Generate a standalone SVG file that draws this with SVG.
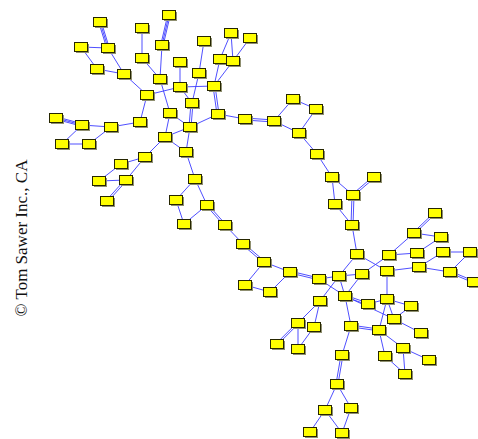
<svg xmlns="http://www.w3.org/2000/svg" width="478" height="439" viewBox="0 0 478 439">
<style>
.e line{stroke:#3c3cff;stroke-width:1;fill:none;stroke-opacity:0.9}
.sh{fill:#8f8f70}
.nd{fill:#ffff00;stroke:#262600;stroke-width:1}
.cp{font-family:"Liberation Serif","Times New Roman",serif;font-size:17px;fill:#111}
</style>
<rect width="478" height="439" fill="#ffffff"/>
<g id="connectors" class="e">
<line x1="98.8" y1="22.4" x2="106.8" y2="48.4"/><line x1="100" y1="22" x2="108" y2="48"/><line x1="101.2" y1="21.6" x2="109.2" y2="47.6"/>
<line x1="170.2" y1="15.3" x2="163.2" y2="45.3"/><line x1="169" y1="15" x2="162" y2="45"/><line x1="167.8" y1="14.7" x2="160.8" y2="44.7"/>
<line x1="55.7" y1="119.2" x2="81.7" y2="126.2"/><line x1="56" y1="118" x2="82" y2="125"/><line x1="56.3" y1="116.8" x2="82.3" y2="123.8"/>
<line x1="193" y1="103" x2="191" y2="127"/><line x1="191" y1="103" x2="189" y2="127"/>
<line x1="215" y1="85.9" x2="219" y2="113.9"/><line x1="213" y1="86.1" x2="217" y2="114.1"/>
<line x1="245" y1="120" x2="274" y2="122"/><line x1="245" y1="118" x2="274" y2="120"/>
<line x1="126.7" y1="180.6" x2="107.7" y2="201.6"/><line x1="125.3" y1="179.4" x2="106.3" y2="200.4"/>
<line x1="206.3" y1="205.6" x2="224.3" y2="225.6"/><line x1="207.7" y1="204.4" x2="225.7" y2="224.4"/>
<line x1="242.4" y1="244.7" x2="263.4" y2="262.7"/><line x1="243.6" y1="243.3" x2="264.6" y2="261.3"/>
<line x1="289.8" y1="272.9" x2="318.8" y2="279.9"/><line x1="290.2" y1="271.1" x2="319.2" y2="278.1"/>
<line x1="374.6" y1="177.7" x2="353.6" y2="195.7"/><line x1="373.4" y1="176.3" x2="352.4" y2="194.3"/>
<line x1="354" y1="195" x2="353" y2="225"/><line x1="352" y1="195" x2="351" y2="225"/>
<line x1="435.6" y1="213.6" x2="414.6" y2="233.6"/><line x1="434.4" y1="212.4" x2="413.4" y2="232.4"/>
<line x1="449.7" y1="272.8" x2="473.7" y2="282.8"/><line x1="450.3" y1="271.2" x2="474.3" y2="281.2"/>
<line x1="344.7" y1="296.8" x2="367.7" y2="304.8"/><line x1="345.3" y1="295.2" x2="368.3" y2="303.2"/>
<line x1="298.6" y1="323.6" x2="277.6" y2="344.6"/><line x1="297.4" y1="322.4" x2="276.4" y2="343.4"/>
<line x1="350.9" y1="326.9" x2="378.9" y2="330.9"/><line x1="351.1" y1="325.1" x2="379.1" y2="329.1"/>
<line x1="343" y1="355" x2="338" y2="384"/><line x1="341" y1="355" x2="336" y2="384"/>
<line x1="142" y1="28" x2="142" y2="58"/>
<line x1="81" y1="47" x2="108" y2="48"/>
<line x1="81" y1="47" x2="97" y2="69"/>
<line x1="108" y1="48" x2="124" y2="74"/>
<line x1="97" y1="69" x2="124" y2="74"/>
<line x1="162" y1="45" x2="160" y2="79"/>
<line x1="142" y1="58" x2="160" y2="79"/>
<line x1="180" y1="62" x2="180" y2="87"/>
<line x1="124" y1="74" x2="147" y2="95"/>
<line x1="147" y1="95" x2="180" y2="87"/>
<line x1="160" y1="79" x2="170" y2="113"/>
<line x1="180" y1="87" x2="192" y2="103"/>
<line x1="147" y1="95" x2="140" y2="122"/>
<line x1="82" y1="125" x2="111" y2="127"/>
<line x1="111" y1="127" x2="140" y2="122"/>
<line x1="82" y1="125" x2="62" y2="144"/>
<line x1="111" y1="127" x2="89" y2="144"/>
<line x1="62" y1="144" x2="89" y2="144"/>
<line x1="170" y1="113" x2="165" y2="137"/>
<line x1="170" y1="113" x2="190" y2="127"/>
<line x1="165" y1="137" x2="145" y2="157"/>
<line x1="165" y1="137" x2="186" y2="152"/>
<line x1="165" y1="137" x2="190" y2="127"/>
<line x1="190" y1="127" x2="186" y2="152"/>
<line x1="199" y1="73" x2="192" y2="103"/>
<line x1="180" y1="87" x2="214" y2="86"/>
<line x1="214" y1="86" x2="220" y2="59"/>
<line x1="214" y1="86" x2="233" y2="61"/>
<line x1="204" y1="41" x2="199" y2="73"/>
<line x1="231" y1="33" x2="220" y2="59"/>
<line x1="231" y1="33" x2="233" y2="61"/>
<line x1="250" y1="38" x2="233" y2="61"/>
<line x1="190" y1="127" x2="218" y2="114"/>
<line x1="218" y1="114" x2="245" y2="119"/>
<line x1="274" y1="121" x2="293" y2="99"/>
<line x1="293" y1="99" x2="316" y2="109"/>
<line x1="316" y1="109" x2="299" y2="133"/>
<line x1="274" y1="121" x2="299" y2="133"/>
<line x1="299" y1="133" x2="317" y2="154"/>
<line x1="317" y1="154" x2="332" y2="177"/>
<line x1="145" y1="157" x2="121" y2="164"/>
<line x1="145" y1="157" x2="126" y2="180"/>
<line x1="121" y1="164" x2="99" y2="181"/>
<line x1="99" y1="181" x2="126" y2="180"/>
<line x1="186" y1="152" x2="195" y2="179"/>
<line x1="195" y1="179" x2="176" y2="200"/>
<line x1="195" y1="179" x2="207" y2="205"/>
<line x1="176" y1="200" x2="184" y2="224"/>
<line x1="207" y1="205" x2="184" y2="224"/>
<line x1="225" y1="225" x2="243" y2="244"/>
<line x1="264" y1="262" x2="290" y2="272"/>
<line x1="264" y1="262" x2="245" y2="285"/>
<line x1="290" y1="272" x2="270" y2="292"/>
<line x1="245" y1="285" x2="270" y2="292"/>
<line x1="332" y1="177" x2="353" y2="195"/>
<line x1="332" y1="177" x2="335" y2="204"/>
<line x1="335" y1="204" x2="352" y2="225"/>
<line x1="352" y1="225" x2="357" y2="254"/>
<line x1="414" y1="233" x2="441" y2="237"/>
<line x1="414" y1="233" x2="389" y2="255"/>
<line x1="441" y1="237" x2="417" y2="253"/>
<line x1="389" y1="255" x2="417" y2="253"/>
<line x1="443" y1="252" x2="470" y2="252"/>
<line x1="443" y1="252" x2="419" y2="267"/>
<line x1="470" y1="252" x2="450" y2="272"/>
<line x1="419" y1="267" x2="387" y2="271"/>
<line x1="419" y1="267" x2="450" y2="272"/>
<line x1="357" y1="254" x2="387" y2="271"/>
<line x1="389" y1="255" x2="362" y2="274"/>
<line x1="357" y1="254" x2="339" y2="276"/>
<line x1="387" y1="271" x2="387" y2="299"/>
<line x1="319" y1="279" x2="339" y2="276"/>
<line x1="339" y1="276" x2="362" y2="274"/>
<line x1="339" y1="276" x2="345" y2="296"/>
<line x1="362" y1="274" x2="345" y2="296"/>
<line x1="319" y1="279" x2="345" y2="296"/>
<line x1="339" y1="276" x2="320" y2="301"/>
<line x1="368" y1="304" x2="387" y2="299"/>
<line x1="387" y1="299" x2="394" y2="319"/>
<line x1="387" y1="299" x2="411" y2="306"/>
<line x1="411" y1="306" x2="394" y2="319"/>
<line x1="345" y1="296" x2="394" y2="319"/>
<line x1="387" y1="299" x2="379" y2="330"/>
<line x1="394" y1="319" x2="421" y2="333"/>
<line x1="345" y1="296" x2="351" y2="326"/>
<line x1="379" y1="330" x2="403" y2="348"/>
<line x1="379" y1="330" x2="385" y2="356"/>
<line x1="403" y1="348" x2="429" y2="360"/>
<line x1="403" y1="348" x2="405" y2="374"/>
<line x1="385" y1="356" x2="405" y2="374"/>
<line x1="351" y1="326" x2="342" y2="355"/>
<line x1="337" y1="384" x2="325" y2="410"/>
<line x1="337" y1="384" x2="351" y2="408"/>
<line x1="325" y1="410" x2="310" y2="432"/>
<line x1="325" y1="410" x2="342" y2="433"/>
<line x1="351" y1="408" x2="342" y2="433"/>
<line x1="320" y1="301" x2="298" y2="323"/>
<line x1="320" y1="301" x2="314" y2="327"/>
<line x1="298" y1="323" x2="298" y2="349"/>
<line x1="314" y1="327" x2="298" y2="349"/>
</g>
<g id="nodes">
<g id="n1"><rect class="sh" x="95" y="19" width="13" height="9"/><rect class="nd" x="93.5" y="17.5" width="13" height="9"/></g>
<g id="n2"><rect class="sh" x="164" y="12" width="13" height="9"/><rect class="nd" x="162.5" y="10.5" width="13" height="9"/></g>
<g id="n3"><rect class="sh" x="137" y="25" width="13" height="9"/><rect class="nd" x="135.5" y="23.5" width="13" height="9"/></g>
<g id="n4"><rect class="sh" x="76" y="44" width="13" height="9"/><rect class="nd" x="74.5" y="42.5" width="13" height="9"/></g>
<g id="n5"><rect class="sh" x="103" y="45" width="13" height="9"/><rect class="nd" x="101.5" y="43.5" width="13" height="9"/></g>
<g id="n6"><rect class="sh" x="157" y="42" width="13" height="9"/><rect class="nd" x="155.5" y="40.5" width="13" height="9"/></g>
<g id="n7"><rect class="sh" x="175" y="59" width="13" height="9"/><rect class="nd" x="173.5" y="57.5" width="13" height="9"/></g>
<g id="n8"><rect class="sh" x="137" y="55" width="13" height="9"/><rect class="nd" x="135.5" y="53.5" width="13" height="9"/></g>
<g id="n9"><rect class="sh" x="92" y="66" width="13" height="9"/><rect class="nd" x="90.5" y="64.5" width="13" height="9"/></g>
<g id="n10"><rect class="sh" x="119" y="71" width="13" height="9"/><rect class="nd" x="117.5" y="69.5" width="13" height="9"/></g>
<g id="n11"><rect class="sh" x="155" y="76" width="13" height="9"/><rect class="nd" x="153.5" y="74.5" width="13" height="9"/></g>
<g id="n12"><rect class="sh" x="175" y="84" width="13" height="9"/><rect class="nd" x="173.5" y="82.5" width="13" height="9"/></g>
<g id="n13"><rect class="sh" x="142" y="92" width="13" height="9"/><rect class="nd" x="140.5" y="90.5" width="13" height="9"/></g>
<g id="n14"><rect class="sh" x="187" y="100" width="13" height="9"/><rect class="nd" x="185.5" y="98.5" width="13" height="9"/></g>
<g id="n15"><rect class="sh" x="165" y="110" width="13" height="9"/><rect class="nd" x="163.5" y="108.5" width="13" height="9"/></g>
<g id="n16"><rect class="sh" x="51" y="115" width="13" height="9"/><rect class="nd" x="49.5" y="113.5" width="13" height="9"/></g>
<g id="n17"><rect class="sh" x="77" y="122" width="13" height="9"/><rect class="nd" x="75.5" y="120.5" width="13" height="9"/></g>
<g id="n18"><rect class="sh" x="106" y="124" width="13" height="9"/><rect class="nd" x="104.5" y="122.5" width="13" height="9"/></g>
<g id="n19"><rect class="sh" x="135" y="119" width="13" height="9"/><rect class="nd" x="133.5" y="117.5" width="13" height="9"/></g>
<g id="n20"><rect class="sh" x="185" y="124" width="13" height="9"/><rect class="nd" x="183.5" y="122.5" width="13" height="9"/></g>
<g id="n21"><rect class="sh" x="160" y="134" width="13" height="9"/><rect class="nd" x="158.5" y="132.5" width="13" height="9"/></g>
<g id="n22"><rect class="sh" x="57" y="141" width="13" height="9"/><rect class="nd" x="55.5" y="139.5" width="13" height="9"/></g>
<g id="n23"><rect class="sh" x="84" y="141" width="13" height="9"/><rect class="nd" x="82.5" y="139.5" width="13" height="9"/></g>
<g id="n24"><rect class="sh" x="181" y="149" width="13" height="9"/><rect class="nd" x="179.5" y="147.5" width="13" height="9"/></g>
<g id="n25"><rect class="sh" x="226" y="30" width="13" height="9"/><rect class="nd" x="224.5" y="28.5" width="13" height="9"/></g>
<g id="n26"><rect class="sh" x="245" y="35" width="13" height="9"/><rect class="nd" x="243.5" y="33.5" width="13" height="9"/></g>
<g id="n27"><rect class="sh" x="199" y="38" width="13" height="9"/><rect class="nd" x="197.5" y="36.5" width="13" height="9"/></g>
<g id="n28"><rect class="sh" x="215" y="56" width="13" height="9"/><rect class="nd" x="213.5" y="54.5" width="13" height="9"/></g>
<g id="n29"><rect class="sh" x="228" y="58" width="13" height="9"/><rect class="nd" x="226.5" y="56.5" width="13" height="9"/></g>
<g id="n30"><rect class="sh" x="194" y="70" width="13" height="9"/><rect class="nd" x="192.5" y="68.5" width="13" height="9"/></g>
<g id="n31"><rect class="sh" x="209" y="83" width="13" height="9"/><rect class="nd" x="207.5" y="81.5" width="13" height="9"/></g>
<g id="n32"><rect class="sh" x="213" y="111" width="13" height="9"/><rect class="nd" x="211.5" y="109.5" width="13" height="9"/></g>
<g id="n33"><rect class="sh" x="240" y="116" width="13" height="9"/><rect class="nd" x="238.5" y="114.5" width="13" height="9"/></g>
<g id="n34"><rect class="sh" x="269" y="118" width="13" height="9"/><rect class="nd" x="267.5" y="116.5" width="13" height="9"/></g>
<g id="n35"><rect class="sh" x="288" y="96" width="13" height="9"/><rect class="nd" x="286.5" y="94.5" width="13" height="9"/></g>
<g id="n36"><rect class="sh" x="311" y="106" width="13" height="9"/><rect class="nd" x="309.5" y="104.5" width="13" height="9"/></g>
<g id="n37"><rect class="sh" x="294" y="130" width="13" height="9"/><rect class="nd" x="292.5" y="128.5" width="13" height="9"/></g>
<g id="n38"><rect class="sh" x="312" y="151" width="13" height="9"/><rect class="nd" x="310.5" y="149.5" width="13" height="9"/></g>
<g id="n39"><rect class="sh" x="140" y="154" width="13" height="9"/><rect class="nd" x="138.5" y="152.5" width="13" height="9"/></g>
<g id="n40"><rect class="sh" x="116" y="161" width="13" height="9"/><rect class="nd" x="114.5" y="159.5" width="13" height="9"/></g>
<g id="n41"><rect class="sh" x="94" y="178" width="13" height="9"/><rect class="nd" x="92.5" y="176.5" width="13" height="9"/></g>
<g id="n42"><rect class="sh" x="121" y="177" width="13" height="9"/><rect class="nd" x="119.5" y="175.5" width="13" height="9"/></g>
<g id="n43"><rect class="sh" x="102" y="198" width="13" height="9"/><rect class="nd" x="100.5" y="196.5" width="13" height="9"/></g>
<g id="n44"><rect class="sh" x="190" y="176" width="13" height="9"/><rect class="nd" x="188.5" y="174.5" width="13" height="9"/></g>
<g id="n45"><rect class="sh" x="171" y="197" width="13" height="9"/><rect class="nd" x="169.5" y="195.5" width="13" height="9"/></g>
<g id="n46"><rect class="sh" x="179" y="221" width="13" height="9"/><rect class="nd" x="177.5" y="219.5" width="13" height="9"/></g>
<g id="n47"><rect class="sh" x="202" y="202" width="13" height="9"/><rect class="nd" x="200.5" y="200.5" width="13" height="9"/></g>
<g id="n48"><rect class="sh" x="220" y="222" width="13" height="9"/><rect class="nd" x="218.5" y="220.5" width="13" height="9"/></g>
<g id="n49"><rect class="sh" x="238" y="241" width="13" height="9"/><rect class="nd" x="236.5" y="239.5" width="13" height="9"/></g>
<g id="n50"><rect class="sh" x="259" y="259" width="13" height="9"/><rect class="nd" x="257.5" y="257.5" width="13" height="9"/></g>
<g id="n51"><rect class="sh" x="285" y="269" width="13" height="9"/><rect class="nd" x="283.5" y="267.5" width="13" height="9"/></g>
<g id="n52"><rect class="sh" x="314" y="276" width="13" height="9"/><rect class="nd" x="312.5" y="274.5" width="13" height="9"/></g>
<g id="n53"><rect class="sh" x="240" y="282" width="13" height="9"/><rect class="nd" x="238.5" y="280.5" width="13" height="9"/></g>
<g id="n54"><rect class="sh" x="265" y="289" width="13" height="9"/><rect class="nd" x="263.5" y="287.5" width="13" height="9"/></g>
<g id="n55"><rect class="sh" x="327" y="174" width="13" height="9"/><rect class="nd" x="325.5" y="172.5" width="13" height="9"/></g>
<g id="n56"><rect class="sh" x="369" y="174" width="13" height="9"/><rect class="nd" x="367.5" y="172.5" width="13" height="9"/></g>
<g id="n57"><rect class="sh" x="348" y="192" width="13" height="9"/><rect class="nd" x="346.5" y="190.5" width="13" height="9"/></g>
<g id="n58"><rect class="sh" x="330" y="201" width="13" height="9"/><rect class="nd" x="328.5" y="199.5" width="13" height="9"/></g>
<g id="n59"><rect class="sh" x="347" y="222" width="13" height="9"/><rect class="nd" x="345.5" y="220.5" width="13" height="9"/></g>
<g id="n60"><rect class="sh" x="430" y="210" width="13" height="9"/><rect class="nd" x="428.5" y="208.5" width="13" height="9"/></g>
<g id="n61"><rect class="sh" x="409" y="230" width="13" height="9"/><rect class="nd" x="407.5" y="228.5" width="13" height="9"/></g>
<g id="n62"><rect class="sh" x="436" y="234" width="13" height="9"/><rect class="nd" x="434.5" y="232.5" width="13" height="9"/></g>
<g id="n63"><rect class="sh" x="352" y="251" width="13" height="9"/><rect class="nd" x="350.5" y="249.5" width="13" height="9"/></g>
<g id="n64"><rect class="sh" x="384" y="252" width="13" height="9"/><rect class="nd" x="382.5" y="250.5" width="13" height="9"/></g>
<g id="n65"><rect class="sh" x="412" y="250" width="13" height="9"/><rect class="nd" x="410.5" y="248.5" width="13" height="9"/></g>
<g id="n66"><rect class="sh" x="438" y="249" width="13" height="9"/><rect class="nd" x="436.5" y="247.5" width="13" height="9"/></g>
<g id="n67"><rect class="sh" x="465" y="249" width="13" height="9"/><rect class="nd" x="463.5" y="247.5" width="13" height="9"/></g>
<g id="n68"><rect class="sh" x="414" y="264" width="13" height="9"/><rect class="nd" x="412.5" y="262.5" width="13" height="9"/></g>
<g id="n69"><rect class="sh" x="382" y="268" width="13" height="9"/><rect class="nd" x="380.5" y="266.5" width="13" height="9"/></g>
<g id="n70"><rect class="sh" x="445" y="269" width="13" height="9"/><rect class="nd" x="443.5" y="267.5" width="13" height="9"/></g>
<g id="n71"><rect class="sh" x="469" y="279" width="13" height="9"/><rect class="nd" x="467.5" y="277.5" width="13" height="9"/></g>
<g id="n72"><rect class="sh" x="334" y="273" width="13" height="9"/><rect class="nd" x="332.5" y="271.5" width="13" height="9"/></g>
<g id="n73"><rect class="sh" x="357" y="271" width="13" height="9"/><rect class="nd" x="355.5" y="269.5" width="13" height="9"/></g>
<g id="n74"><rect class="sh" x="315" y="298" width="13" height="9"/><rect class="nd" x="313.5" y="296.5" width="13" height="9"/></g>
<g id="n75"><rect class="sh" x="340" y="293" width="13" height="9"/><rect class="nd" x="338.5" y="291.5" width="13" height="9"/></g>
<g id="n76"><rect class="sh" x="293" y="320" width="13" height="9"/><rect class="nd" x="291.5" y="318.5" width="13" height="9"/></g>
<g id="n77"><rect class="sh" x="309" y="324" width="13" height="9"/><rect class="nd" x="307.5" y="322.5" width="13" height="9"/></g>
<g id="n78"><rect class="sh" x="272" y="341" width="13" height="9"/><rect class="nd" x="270.5" y="339.5" width="13" height="9"/></g>
<g id="n79"><rect class="sh" x="293" y="346" width="13" height="9"/><rect class="nd" x="291.5" y="344.5" width="13" height="9"/></g>
<g id="n80"><rect class="sh" x="346" y="323" width="13" height="9"/><rect class="nd" x="344.5" y="321.5" width="13" height="9"/></g>
<g id="n81"><rect class="sh" x="337" y="352" width="13" height="9"/><rect class="nd" x="335.5" y="350.5" width="13" height="9"/></g>
<g id="n82"><rect class="sh" x="332" y="381" width="13" height="9"/><rect class="nd" x="330.5" y="379.5" width="13" height="9"/></g>
<g id="n83"><rect class="sh" x="320" y="407" width="13" height="9"/><rect class="nd" x="318.5" y="405.5" width="13" height="9"/></g>
<g id="n84"><rect class="sh" x="346" y="405" width="13" height="9"/><rect class="nd" x="344.5" y="403.5" width="13" height="9"/></g>
<g id="n85"><rect class="sh" x="305" y="429" width="13" height="9"/><rect class="nd" x="303.5" y="427.5" width="13" height="9"/></g>
<g id="n86"><rect class="sh" x="337" y="430" width="13" height="9"/><rect class="nd" x="335.5" y="428.5" width="13" height="9"/></g>
<g id="n87"><rect class="sh" x="363" y="301" width="13" height="9"/><rect class="nd" x="361.5" y="299.5" width="13" height="9"/></g>
<g id="n88"><rect class="sh" x="382" y="296" width="13" height="9"/><rect class="nd" x="380.5" y="294.5" width="13" height="9"/></g>
<g id="n89"><rect class="sh" x="406" y="303" width="13" height="9"/><rect class="nd" x="404.5" y="301.5" width="13" height="9"/></g>
<g id="n90"><rect class="sh" x="389" y="316" width="13" height="9"/><rect class="nd" x="387.5" y="314.5" width="13" height="9"/></g>
<g id="n91"><rect class="sh" x="374" y="327" width="13" height="9"/><rect class="nd" x="372.5" y="325.5" width="13" height="9"/></g>
<g id="n92"><rect class="sh" x="416" y="330" width="13" height="9"/><rect class="nd" x="414.5" y="328.5" width="13" height="9"/></g>
<g id="n93"><rect class="sh" x="398" y="345" width="13" height="9"/><rect class="nd" x="396.5" y="343.5" width="13" height="9"/></g>
<g id="n94"><rect class="sh" x="380" y="353" width="13" height="9"/><rect class="nd" x="378.5" y="351.5" width="13" height="9"/></g>
<g id="n95"><rect class="sh" x="424" y="357" width="13" height="9"/><rect class="nd" x="422.5" y="355.5" width="13" height="9"/></g>
<g id="n96"><rect class="sh" x="400" y="371" width="13" height="9"/><rect class="nd" x="398.5" y="369.5" width="13" height="9"/></g>
</g>
<text class="cp" transform="translate(27,238) rotate(-90)" text-anchor="middle">© Tom Sawer Inc., CA</text>
</svg>
